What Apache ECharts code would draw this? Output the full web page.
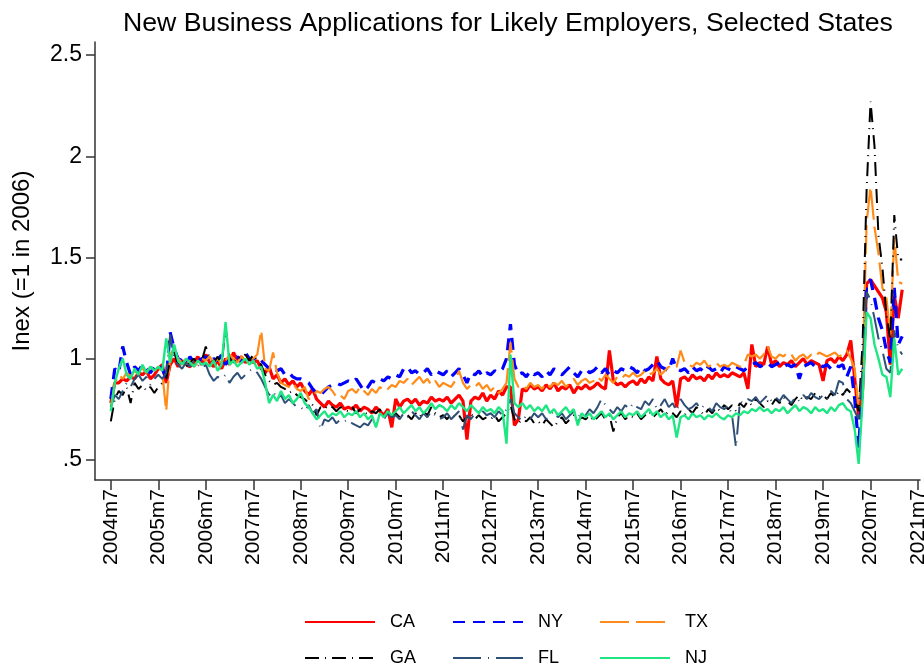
<!DOCTYPE html>
<html>
<head>
<meta charset="utf-8">
<script src="https://cdn.jsdelivr.net/npm/echarts@6/dist/echarts.min.js"></script>
<style>
html, body { margin: 0; padding: 0; background: #fff; }
#main { width: 924px; height: 671px; }
</style>
</head>
<body>
<div id="main"></div>
<script>
// monthly index, 2004m7 = 0 ... 2021m3 = 200
var tickLabels = ['2004m7', '2005m7', '2006m7', '2007m7', '2008m7', '2009m7', '2010m7', '2011m7', '2012m7',
	'2013m7', '2014m7', '2015m7', '2016m7', '2017m7', '2018m7', '2019m7', '2020m7', '2021m7'];
var yTicks = [0.5, 1, 1.5, 2, 2.5];

var ca = [
	0.78, 0.88, 0.88, 0.90, 0.89, 0.91, 0.90, 0.93, 0.92, 0.94, 0.90, 0.92,
	0.95, 0.97, 0.88, 0.97, 1.00, 0.96, 0.99, 0.97, 0.96, 0.98, 1.01, 0.97,
	1.02, 0.98, 0.96, 0.99, 0.95, 1.00, 0.97, 1.03, 0.99, 1.01, 0.98, 1.00,
	0.98, 0.99, 0.95, 0.93, 0.96, 0.90, 0.92, 0.88, 0.90, 0.87, 0.89, 0.86,
	0.88, 0.84, 0.82, 0.85, 0.80, 0.78, 0.76, 0.79, 0.77, 0.76, 0.78, 0.75,
	0.76, 0.75, 0.77, 0.74, 0.76, 0.75, 0.73, 0.76, 0.74, 0.72, 0.75, 0.66,
	0.80, 0.76, 0.79, 0.80, 0.78, 0.80, 0.77, 0.79, 0.78, 0.81, 0.79, 0.80,
	0.79, 0.81, 0.78, 0.80, 0.82, 0.79, 0.60, 0.79, 0.81, 0.80, 0.83, 0.79,
	0.82, 0.80, 0.84, 0.82, 0.86, 0.86, 0.67, 0.70, 0.85, 0.84, 0.87, 0.85,
	0.86, 0.84, 0.87, 0.85, 0.88, 0.84, 0.86, 0.85, 0.87, 0.83, 0.86, 0.85,
	0.87, 0.85, 0.86, 0.88, 0.86, 0.85, 1.04, 0.89, 0.87, 0.88, 0.86, 0.88,
	0.89, 0.87, 0.90, 0.88, 0.91, 0.89, 1.01, 0.90, 0.88, 0.87, 0.89, 0.76,
	0.90, 0.91, 0.89, 0.92, 0.90, 0.91, 0.89, 0.92, 0.90, 0.93, 0.91, 0.92,
	0.91, 0.93, 0.92, 0.91, 0.93, 0.85, 1.07, 0.96, 0.98, 0.97, 1.06, 0.97,
	0.99, 0.96, 0.98, 0.97, 0.99, 0.96, 0.98, 1.00, 0.97, 0.99, 0.98, 0.97,
	0.89, 0.99, 1.00, 0.98, 1.01, 0.99, 1.02, 1.09, 0.90, 0.71, 0.85, 1.37,
	1.39, 1.36, 1.33, 1.30, 1.23, 0.97, 1.31, 1.20, 1.34
];
var ny = [
	0.80, 0.95, 0.93, 1.06, 0.98, 0.92, 0.96, 0.94, 0.97, 0.95, 0.93, 0.96,
	0.97, 0.95, 0.90, 1.13, 1.05, 1.00, 0.99, 0.97, 1.01, 0.98, 0.99, 1.00,
	1.01, 0.98, 1.00, 0.99, 1.02, 0.97, 1.00, 0.99, 1.01, 0.98, 1.03, 1.00,
	1.00, 0.98, 0.99, 0.97, 0.95, 0.96, 0.94, 0.95, 0.92, 0.93, 0.91, 0.90,
	0.90, 0.89, 0.88, 0.85, 0.83, 0.82, 0.84, 0.86, 0.87, 0.88, 0.87, 0.88,
	0.89, 0.88, 0.90, 0.87, 0.84, 0.86, 0.89, 0.88, 0.90, 0.89, 0.91, 0.90,
	0.92, 0.91, 0.95, 0.96, 0.93, 0.94, 0.92, 0.93, 0.95, 0.92, 0.94, 0.93,
	0.92, 0.94, 0.91, 0.93, 0.95, 0.92, 0.88, 0.93, 0.92, 0.94, 0.91, 0.93,
	0.92, 0.94, 0.93, 0.95, 1.00, 1.17, 0.97, 0.92, 0.93, 0.91, 0.94, 0.92,
	0.93, 0.91, 0.94, 0.92, 0.95, 0.93, 0.92, 0.94, 0.96, 0.93, 0.91, 0.94,
	0.95, 0.93, 0.94, 0.96, 0.93, 0.95, 0.92, 0.94, 0.93, 0.95, 0.94, 0.96,
	0.95, 0.93, 0.96, 0.94, 0.95, 0.97, 0.99, 0.96, 0.95, 0.94, 1.00, 0.95,
	0.94, 0.95, 0.93, 0.96, 0.94, 0.95, 0.93, 0.96, 0.94, 0.95, 0.93, 0.96,
	0.95, 0.94, 0.96, 0.95, 0.94, 0.96, 0.97, 0.98, 0.96, 0.97, 0.98, 0.96,
	0.97, 0.98, 0.96, 0.97, 0.96, 0.97, 0.90, 0.96, 0.97, 0.98, 0.96, 0.97,
	0.96, 0.97, 0.95, 0.97, 0.96, 0.97, 0.91, 0.96, 0.80, 0.56, 0.88, 1.37,
	1.39, 1.30, 1.20, 1.14, 1.04, 0.98, 1.35, 1.07, 1.11
];
var tx = [
	0.76, 0.88, 0.92, 0.90, 0.93, 0.91, 0.94, 0.92, 0.95, 0.93, 0.96, 0.94,
	0.96, 0.93, 0.74, 1.02, 1.05, 1.00, 0.98, 0.97, 0.99, 0.96, 0.98, 1.00,
	0.99, 1.01, 0.98, 1.00, 0.97, 0.99, 1.02, 1.00, 0.98, 1.01, 0.99, 1.00,
	1.00, 1.02, 1.14, 0.95, 0.94, 1.03, 0.93, 0.88, 0.87, 0.86, 0.88, 0.85,
	0.84, 0.86, 0.80, 0.81, 0.84, 0.83, 0.85, 0.86, 0.84, 0.81, 0.82, 0.80,
	0.84, 0.85, 0.83, 0.86, 0.84, 0.82, 0.85, 0.83, 0.86, 0.84, 0.85, 0.87,
	0.86, 0.89, 0.88, 0.90, 0.87, 0.89, 0.91, 0.88, 0.90, 0.87, 0.89, 0.86,
	0.88, 0.87, 0.86, 0.89, 0.94, 0.88, 0.85, 0.87, 0.86, 0.88, 0.85, 0.87,
	0.84, 0.86, 0.83, 0.85, 0.88, 1.08, 0.90, 0.86, 0.87, 0.85, 0.88, 0.86,
	0.87, 0.85, 0.88, 0.86, 0.88, 0.87, 0.89, 0.86, 0.88, 0.90, 0.87, 0.89,
	0.90, 0.88, 0.89, 0.91, 0.89, 0.92, 0.90, 0.88, 0.91, 0.90, 0.92, 0.91,
	0.93, 0.91, 0.92, 0.94, 0.92, 0.93, 0.95, 0.92, 0.94, 0.96, 0.95, 0.96,
	1.04, 0.98, 0.97, 0.96, 0.98, 0.97, 0.99, 0.96, 0.97, 0.98, 0.96, 0.97,
	0.96, 0.98, 0.97, 0.96, 0.97, 1.02, 1.01, 1.02, 1.00, 1.02, 1.06, 1.01,
	1.00, 1.02, 1.01, 1.03, 1.02, 0.99, 1.01, 1.02, 1.00, 1.02, 1.01, 1.03,
	1.02, 1.01, 1.02, 1.03, 1.01, 1.02, 1.04, 1.00, 0.95, 0.75, 0.94, 1.67,
	1.85, 1.65, 1.52, 1.35, 1.30, 1.12, 1.60, 1.38, 1.37
];
var ga = [
	0.69, 0.80, 0.84, 0.82, 0.86, 0.78, 0.88, 0.85, 0.87, 0.84, 0.86, 0.83,
	0.86, 0.88, 0.90, 0.99, 1.03, 0.97, 0.99, 0.96, 0.98, 1.00, 0.97, 0.99,
	1.06, 1.00, 0.98, 1.01, 0.97, 1.15, 1.00, 0.98, 1.01, 1.00, 1.02, 0.99,
	1.02, 0.99, 0.97, 0.92, 0.89, 0.87, 0.88, 0.86, 0.85, 0.83, 0.84, 0.82,
	0.81, 0.80, 0.78, 0.77, 0.72, 0.76, 0.75, 0.77, 0.76, 0.74, 0.76, 0.75,
	0.74, 0.76, 0.73, 0.75, 0.74, 0.72, 0.74, 0.73, 0.75, 0.71, 0.73, 0.72,
	0.73, 0.71, 0.74, 0.72, 0.70, 0.73, 0.71, 0.74, 0.72, 0.76, 0.73, 0.71,
	0.72, 0.70, 0.73, 0.71, 0.72, 0.69, 0.71, 0.73, 0.70, 0.72, 0.70, 0.71,
	0.70, 0.72, 0.69, 0.71, 0.73, 0.77, 0.70, 0.68, 0.70, 0.69, 0.71, 0.68,
	0.69, 0.67, 0.70, 0.68, 0.66, 0.69, 0.71, 0.68, 0.70, 0.72, 0.69, 0.71,
	0.70, 0.72, 0.69, 0.71, 0.73, 0.70, 0.72, 0.64, 0.71, 0.73, 0.70, 0.72,
	0.71, 0.73, 0.70, 0.72, 0.74, 0.71, 0.73, 0.75, 0.72, 0.74, 0.73, 0.71,
	0.74, 0.72, 0.75, 0.73, 0.76, 0.74, 0.72, 0.75, 0.73, 0.76, 0.74, 0.77,
	0.75, 0.77, 0.74, 0.78, 0.76, 0.79, 0.77, 0.80, 0.78, 0.76, 0.79, 0.77,
	0.80, 0.78, 0.81, 0.79, 0.77, 0.80, 0.82, 0.79, 0.81, 0.80, 0.83, 0.81,
	0.82, 0.80, 0.83, 0.81, 0.84, 0.82, 0.85, 0.83, 0.80, 0.74, 1.08, 1.83,
	2.27, 2.05, 1.61, 1.45, 1.22, 1.09, 1.71, 1.49, 1.49
];
var fl = [
	0.76, 0.82, 0.80, 0.84, 0.88, 0.86, 0.90, 0.92, 0.89, 0.91, 0.87, 0.90,
	0.92, 0.90, 0.93, 1.12, 1.00, 0.97, 0.95, 0.98, 0.96, 0.99, 0.97, 0.95,
	0.97, 0.92, 0.89, 0.91, 0.90, 0.92, 0.88, 0.91, 0.93, 0.90, 0.92, 0.94,
	0.95, 0.93, 0.90, 0.86, 0.82, 0.84, 0.80, 0.82, 0.78, 0.80, 0.78, 0.76,
	0.76, 0.74, 0.77, 0.73, 0.75, 0.65, 0.70, 0.69, 0.71, 0.68, 0.70, 0.69,
	0.70, 0.68, 0.67, 0.66, 0.68, 0.67, 0.70, 0.71, 0.72, 0.70, 0.73, 0.71,
	0.72, 0.70, 0.73, 0.71, 0.74, 0.72, 0.70, 0.73, 0.71, 0.74, 0.72, 0.70,
	0.71, 0.73, 0.70, 0.72, 0.74, 0.65, 0.72, 0.70, 0.73, 0.71, 0.74, 0.72,
	0.73, 0.71, 0.74, 0.72, 0.75, 0.80, 0.73, 0.71, 0.69, 0.72, 0.70, 0.73,
	0.71, 0.73, 0.70, 0.72, 0.74, 0.71, 0.73, 0.70, 0.72, 0.74, 0.71, 0.73,
	0.72, 0.75, 0.73, 0.76, 0.80, 0.77, 0.75, 0.73, 0.76, 0.74, 0.77, 0.75,
	0.78, 0.76, 0.75, 0.79, 0.77, 0.80, 0.75, 0.77, 0.80, 0.76, 0.78, 0.74,
	0.80, 0.77, 0.75, 0.76, 0.78, 0.75, 0.77, 0.76, 0.74, 0.78, 0.76, 0.75,
	0.77, 0.72, 0.56, 0.79, 0.78, 0.80, 0.79, 0.81, 0.78, 0.80, 0.82, 0.79,
	0.81, 0.79, 0.82, 0.80, 0.78, 0.81, 0.79, 0.82, 0.80, 0.83, 0.81, 0.80,
	0.82, 0.80, 0.84, 0.82, 0.89, 0.88, 0.80, 0.78, 0.74, 0.70, 0.95, 1.33,
	1.29, 1.20, 1.10, 1.04, 0.95, 0.93, 1.14, 1.05, 1.02
];
var nj = [
	0.74, 0.88, 0.95, 1.00, 0.92, 0.90, 0.95, 0.92, 0.97, 0.93, 0.96, 0.94,
	0.96, 0.94, 1.10, 0.98, 1.07, 0.99, 0.97, 1.00, 0.98, 0.96, 0.99, 0.97,
	0.98, 0.96, 0.99, 0.94, 0.97, 1.18, 0.97, 0.99, 0.96, 0.98, 1.00, 0.97,
	0.99, 0.95, 0.96, 0.88, 0.78, 0.82, 0.79, 0.84, 0.80, 0.82, 0.78, 0.80,
	0.83, 0.78, 0.76, 0.73, 0.70, 0.72, 0.74, 0.71, 0.73, 0.72, 0.74, 0.71,
	0.73, 0.72, 0.74, 0.71, 0.73, 0.70, 0.72, 0.66, 0.73, 0.71, 0.74, 0.72,
	0.74, 0.76, 0.73, 0.75, 0.77, 0.74, 0.76, 0.73, 0.75, 0.78, 0.75, 0.77,
	0.76, 0.74, 0.77, 0.75, 0.78, 0.76, 0.74, 0.77, 0.75, 0.73, 0.76, 0.74,
	0.75, 0.73, 0.76, 0.74, 0.58, 1.02, 0.78, 0.76, 0.78, 0.75, 0.77, 0.74,
	0.76, 0.74, 0.77, 0.73, 0.75, 0.72, 0.74, 0.76, 0.73, 0.75, 0.67, 0.73,
	0.71, 0.73, 0.70, 0.72, 0.74, 0.71, 0.73, 0.70, 0.72, 0.74, 0.71, 0.73,
	0.72, 0.74, 0.71, 0.73, 0.75, 0.72, 0.74, 0.71, 0.73, 0.70, 0.72, 0.61,
	0.71, 0.72, 0.70, 0.73, 0.71, 0.72, 0.70, 0.72, 0.71, 0.73, 0.71, 0.70,
	0.72, 0.71, 0.73, 0.72, 0.74, 0.73, 0.75, 0.74, 0.76, 0.74, 0.75, 0.73,
	0.75, 0.74, 0.76, 0.73, 0.75, 0.77, 0.74, 0.76, 0.75, 0.73, 0.76, 0.74,
	0.75, 0.73, 0.76, 0.74, 0.77, 0.78, 0.75, 0.74, 0.65, 0.48, 0.80, 1.23,
	1.20, 1.07, 1.00, 0.92, 0.91, 0.81, 1.10, 0.92, 0.95
];

var names = ['CA', 'NY', 'TX', 'GA', 'FL', 'NJ'];
var colors = ['#ff0000', '#0000ff', '#ff8c1a', '#000000', '#2e5077', '#1ee682'];
var widths = [3.2, 3.2, 2.2, 2, 2, 2.4];
var dashes = ['solid', [12, 8], [29, 7], [14, 6, 1, 6], [28, 7, 1, 7], 'solid'];
var values = [ca, ny, tx, ga, fl, nj];

var font = 'Liberation Sans, Arial, sans-serif';

var series = names.map(function(n, k) {
	return {
		name: n,
		type: 'line',
		symbol: 'none',
		color: colors[k],
		lineStyle: { width: widths[k], type: dashes[k], color: colors[k] },
		data: values[k].map(function(v, i) { return [i, v]; })
	};
});

// one legend per item so columns line up like the original
var legendLeft = [304, 452, 599];
var legendTop = [613, 649];
var legends = names.map(function(n, k) {
	return {
		data: [n],
		left: legendLeft[k % 3],
		top: legendTop[Math.floor(k / 3)],
		padding: 0,
		itemWidth: 70,
		itemHeight: 16,
		itemStyle: { opacity: 0 },
		textStyle: { fontFamily: font, fontSize: 18, color: '#000', padding: [0, 0, 0, 10] }
	};
});

var myChart = echarts.init(document.getElementById('main'));
var option = {
	animation: false,
	backgroundColor: '#fff',
	title: {
		text: 'New Business Applications for Likely Employers, Selected States',
		left: 118,
		top: 5,
		textStyle: { fontFamily: font, fontSize: 26.7, fontWeight: 'normal', color: '#000' }
	},
	legend: legends,
	grid: { left: 95, right: 4, top: 42, bottom: 191, containLabel: false, outerBoundsMode: 'none' },
	xAxis: {
		type: 'value',
		min: -4,
		max: 204.5,
		splitLine: { show: false },
		axisLine: { onZero: false, lineStyle: { color: '#333', width: 1.5 } },
		axisTick: { length: 10, lineStyle: { color: '#333', width: 1.5 }, customValues: tickLabels.map(function(t, i) { return i * 12; }) },
		axisLabel: {
			rotate: 90,
			margin: 9,
			fontFamily: font,
			fontSize: 21,
			color: '#000',
			customValues: tickLabels.map(function(t, i) { return i * 12; }),
			formatter: function(v) { return tickLabels[Math.round(v / 12)]; }
		}
	},
	yAxis: {
		type: 'value',
		min: 0.4,
		max: 2.565,
		name: 'Inex (=1 in 2006)',
		nameLocation: 'middle',
		nameRotate: 90,
		nameGap: 61,
		nameMoveOverlap: false,
		nameTextStyle: { fontFamily: font, fontSize: 24, color: '#000' },
		splitLine: { show: false },
		axisLine: { show: true, onZero: false, lineStyle: { color: '#333', width: 1.5 } },
		axisTick: { show: true, length: 9, lineStyle: { color: '#333', width: 1.5 }, customValues: yTicks },
		axisLabel: {
			margin: 13,
			fontFamily: font,
			fontSize: 23,
			color: '#000',
			customValues: yTicks,
			formatter: function(v) { return v === 0.5 ? '.5' : String(v); }
		}
	},
	series: series
};
myChart.setOption(option);
</script>
</body>
</html>
